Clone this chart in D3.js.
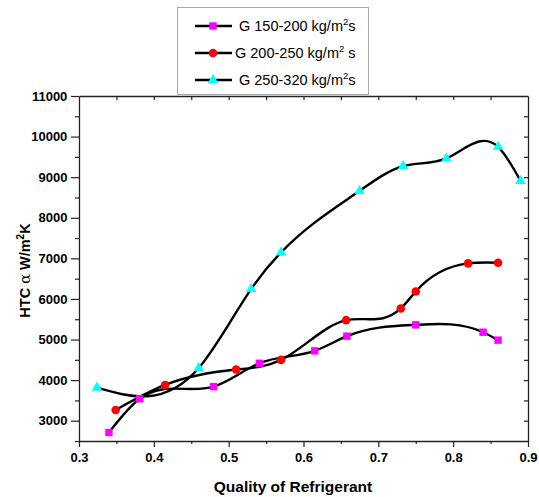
<!DOCTYPE html>
<html>
<head>
<meta charset="utf-8">
<script src="https://cdn.jsdelivr.net/npm/d3@7"></script>
<style>
  body { margin: 0; background: #fff; }
  svg { display: block; font-family: "Liberation Sans", Arial, sans-serif; }
</style>
</head>
<body>
<div id="chart"></div>
<script>
// values
const xTicks = [0.3, 0.4, 0.5, 0.6, 0.7, 0.8, 0.9];
const yTicks = [3000, 4000, 5000, 6000, 7000, 8000, 9000, 10000, 11000];

const g150 = [
  [0.340, 2710], [0.381, 3540], [0.480, 3840], [0.541, 4415], [0.615, 4720],
  [0.658, 5083], [0.750, 5362], [0.840, 5180], [0.860, 4985]
];
const g200 = [
  [0.349, 3263], [0.415, 3880], [0.510, 4260], [0.570, 4498], [0.657, 5477],
  [0.730, 5765], [0.750, 6185], [0.820, 6877], [0.860, 6893]
];
const g250 = [
  [0.324, 3815], [0.460, 4300], [0.530, 6243], [0.570, 7148], [0.675, 8663],
  [0.733, 9272], [0.791, 9461], [0.860, 9749], [0.890, 8909]
];

const seriesNames = ["G 150-200 kg/m", "G 200-250 kg/m", "G 250-320 kg/m"];
const seriesTail = ["s", " s", "s"];

const width = 539, height = 497;
const margin = {top: 96, right: 11, bottom: 56, left: 79};
const iw = width - margin.left - margin.right;
const ih = height - margin.top - margin.bottom;

const svg = d3.select("#chart").append("svg")
  .attr("width", width)
  .attr("height", height);

const x = d3.scaleLinear().domain([0.3, 0.9]).range([margin.left, margin.left + iw]);
const y = d3.scaleLinear().domain([2500, 11000]).range([margin.top + ih, margin.top]);

const minorX = d3.range(0.35, 0.9, 0.1);
const minorY = d3.range(2500, 11000, 1000);

// bottom axis
svg.append("g")
  .attr("transform", `translate(0,${margin.top + ih})`)
  .call(d3.axisBottom(x).tickValues(minorX).tickSize(3).tickFormat(""))
  .call(g => g.select(".domain").remove());
const xAxis = svg.append("g")
  .attr("transform", `translate(0,${margin.top + ih})`)
  .call(d3.axisBottom(x).tickValues(xTicks).tickSize(6).tickSizeOuter(0).tickFormat(d3.format(".1f")));
xAxis.selectAll("text").attr("font-size", 13).attr("font-weight", "bold").attr("dy", "0.95em");

// left axis
svg.append("g")
  .attr("transform", `translate(${margin.left},0)`)
  .call(d3.axisLeft(y).tickValues(minorY).tickSize(4).tickFormat(""))
  .call(g => g.select(".domain").remove());
const yAxis = svg.append("g")
  .attr("transform", `translate(${margin.left},0)`)
  .call(d3.axisLeft(y).tickValues(yTicks).tickSize(8).tickSizeOuter(0).tickFormat(d3.format("d")));
yAxis.selectAll("text").attr("font-size", 13).attr("font-weight", "bold").attr("dx", "-0.05em");

// top and right mirror axes, ticks inward
svg.append("g")
  .attr("transform", `translate(0,${margin.top})`)
  .call(d3.axisBottom(x).tickValues(d3.range(0.35, 0.9, 0.05)).tickSize(4).tickSizeOuter(0).tickFormat(""));
svg.append("g")
  .attr("transform", `translate(${margin.left + iw},0)`)
  .call(d3.axisLeft(y).tickValues(d3.range(3000, 11000, 500)).tickSize(4).tickSizeOuter(0).tickFormat(""));

svg.selectAll(".domain").attr("stroke", "#222").attr("stroke-width", 1.3);
svg.selectAll(".tick line").attr("stroke", "#222").attr("stroke-width", 1.2);

// natural cubic spline y(x), drawn as one bezier per segment
function splineCurve(context) {
  let pts = [];
  return {
    lineStart() { pts = []; },
    lineEnd() {
      const n = pts.length - 1;
      if (n < 1) return;
      const h = [], M = new Array(n + 1).fill(0);
      for (let i = 0; i < n; i++) h.push(pts[i + 1][0] - pts[i][0]);
      // tridiagonal solve for second derivatives
      const a = [], b = [], c = [], r = [];
      for (let i = 1; i < n; i++) {
        a.push(h[i - 1]); b.push(2 * (h[i - 1] + h[i])); c.push(h[i]);
        r.push(6 * ((pts[i + 1][1] - pts[i][1]) / h[i] - (pts[i][1] - pts[i - 1][1]) / h[i - 1]));
      }
      const m = b.length;
      for (let i = 1; i < m; i++) {
        const w = a[i] / b[i - 1];
        b[i] -= w * c[i - 1];
        r[i] -= w * r[i - 1];
      }
      for (let i = m - 1; i >= 0; i--) {
        M[i + 1] = (r[i] - (i < m - 1 ? c[i] * M[i + 2] : 0)) / b[i];
      }
      const slope = [];
      for (let i = 0; i < n; i++) {
        slope.push((pts[i + 1][1] - pts[i][1]) / h[i] - h[i] * (2 * M[i] + M[i + 1]) / 6);
      }
      slope.push((pts[n][1] - pts[n - 1][1]) / h[n - 1] + h[n - 1] * (M[n - 1] + 2 * M[n]) / 6);
      context.moveTo(pts[0][0], pts[0][1]);
      for (let i = 0; i < n; i++) {
        const d = h[i] / 3;
        context.bezierCurveTo(
          pts[i][0] + d, pts[i][1] + d * slope[i],
          pts[i + 1][0] - d, pts[i + 1][1] - d * slope[i + 1],
          pts[i + 1][0], pts[i + 1][1]);
      }
    },
    point(px, py) { pts.push([px, py]); },
    areaStart() {}, areaEnd() {}
  };
}

const line = d3.line()
  .x(d => x(d[0]))
  .y(d => y(d[1]))
  .curve(splineCurve);

[g150, g200, g250].forEach(s => {
  svg.append("path")
    .datum(s)
    .attr("fill", "none")
    .attr("stroke", "#000")
    .attr("stroke-width", 2.4)
    .attr("d", line);
});

const sq = d3.symbol().type(d3.symbolSquare).size(55);
const ci = d3.symbol().type(d3.symbolCircle).size(58);
const tri = d3.symbol().type(d3.symbolTriangle).size(48);
const markers = [
  {data: g150, sym: sq, color: "#ff00ff"},
  {data: g200, sym: ci, color: "#ff0000"},
  {data: g250, sym: tri, color: "#00ffff"}
];

markers.forEach(m => {
  svg.append("g").selectAll("path")
    .data(m.data)
    .join("path")
    .attr("transform", d => `translate(${x(d[0])},${y(d[1])})`)
    .attr("d", m.sym)
    .attr("fill", m.color);
});

// axis titles
svg.append("text")
  .attr("x", 293)
  .attr("y", 492)
  .attr("text-anchor", "middle")
  .attr("font-size", 15.5)
  .attr("font-weight", "bold")
  .text("Quality of Refrigerant");

const yt = svg.append("text")
  .attr("transform", `translate(30,${(margin.top + margin.top + ih) / 2 + 2}) rotate(-90)`)
  .attr("text-anchor", "middle")
  .attr("font-size", 14.5)
  .attr("font-weight", "bold");
yt.append("tspan").text("HTC ");
yt.append("tspan").attr("font-weight", "normal").attr("font-family", "DejaVu Serif").text("\u03B1");
yt.append("tspan").text(" W/m");
yt.append("tspan").attr("font-size", 10).attr("dy", -6).text("2");
yt.append("tspan").attr("dy", 6).text("K");

// legend
const lg = svg.append("g");
lg.append("rect")
  .attr("x", 177.5).attr("y", 7.5)
  .attr("width", 191).attr("height", 87)
  .attr("fill", "#fff")
  .attr("stroke", "#aaa");

const rowsY = [26, 53, 80];
const textX = [239, 235, 239];
markers.forEach((m, i) => {
  lg.append("line")
    .attr("x1", 195).attr("x2", 232)
    .attr("y1", rowsY[i]).attr("y2", rowsY[i])
    .attr("stroke", "#000").attr("stroke-width", 2.4);
  lg.append("path")
    .attr("transform", `translate(213,${rowsY[i]})`)
    .attr("d", m.sym)
    .attr("fill", m.color);
  const t = lg.append("text")
    .attr("x", textX[i]).attr("y", rowsY[i] + 5)
    .attr("font-size", 14.5);
  t.append("tspan").text(seriesNames[i]);
  t.append("tspan").attr("font-size", 9.5).attr("dy", -6).text("2");
  t.append("tspan").attr("dy", 6).text(seriesTail[i]);
});
</script>
</body>
</html>
